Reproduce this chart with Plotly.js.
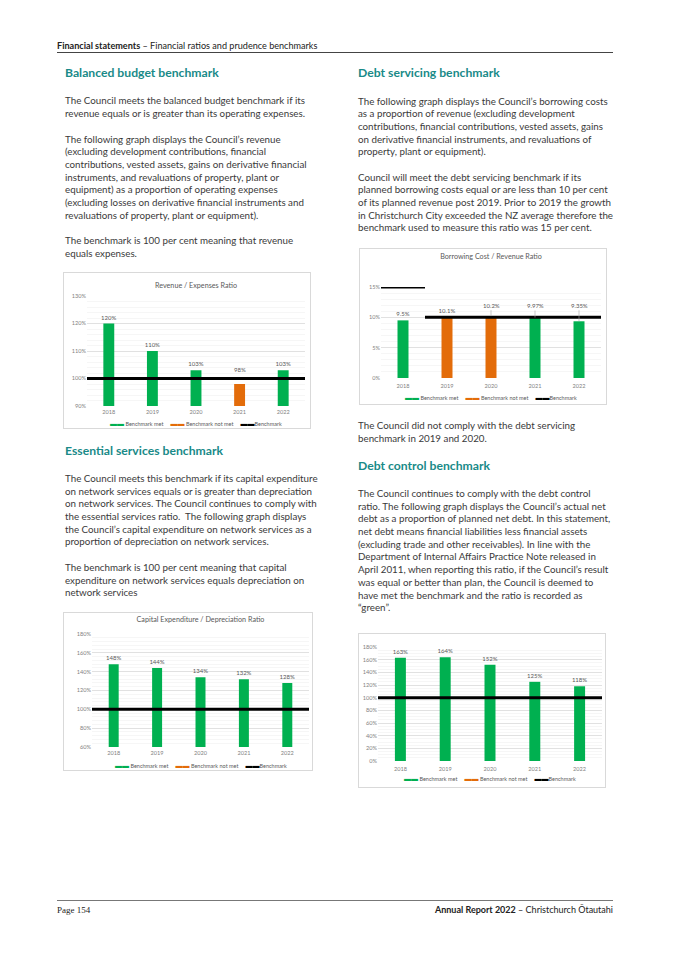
<!DOCTYPE html>
<html><head><meta charset="utf-8">
<script src="https://cdn.plot.ly/plotly-3.0.1.min.js"></script>
<style>
html,body{margin:0;padding:0;background:#fff}
body{width:675px;height:955px;position:relative;overflow:hidden;font-family:Lato,"Noto Sans",sans-serif;color:#3a3a3a}
.t{position:absolute;white-space:nowrap;font-size:10px;line-height:12.7px}
.h{position:absolute;white-space:nowrap;color:#198a88;font-weight:700;font-size:12.2px;line-height:16px}
.box{position:absolute;border:1px solid #d9d9d9;box-sizing:border-box;background:#fff}
.rule{position:absolute;height:0;border-top:1px solid #444}
</style></head><body>

<div class="t" style="left:57px;top:40px;font-size:9.1px;line-height:12px;color:#222"><b>Financial statements</b> – Financial ratios and prudence benchmarks</div>
<div class="rule" style="left:57px;top:52px;width:556px"></div>

<div class="h" style="left:65px;top:65.3px">Balanced budget benchmark</div>
<div class="t" id="ref" style="left:65px;top:94.35px"><span id="refline">The Council meets the balanced budget benchmark if its</span><br>revenue equals or is greater than its operating expenses.</div>
<div class="t" style="left:65px;top:132.65px">The following graph displays the Council’s revenue<br>(excluding development contributions, financial<br>contributions, vested assets, gains on derivative financial<br>instruments, and revaluations of property, plant or<br>equipment) as a proportion of operating expenses<br>(excluding losses on derivative financial instruments and<br>revaluations of property, plant or equipment).</div>
<div class="t" style="left:65px;top:234.15px">The benchmark is 100 per cent meaning that revenue<br>equals expenses.</div>

<div class="box" id="c1" style="left:63px;top:272px;width:248px;height:157px"></div>

<div class="h" style="left:65px;top:442.7px">Essential services benchmark</div>
<div class="t" style="left:65px;top:471.95px">The Council meets this benchmark if its capital expenditure<br>on network services equals or is greater than depreciation<br>on network services. The Council continues to comply with<br>the essential services ratio.&nbsp; The following graph displays<br>the Council’s capital expenditure on network services as a<br>proportion of depreciation on network services.</div>
<div class="t" style="left:65px;top:560.95px">The benchmark is 100 per cent meaning that capital<br>expenditure on network services equals depreciation on<br>network services</div>

<div class="box" id="c3" style="left:63px;top:612px;width:250px;height:159px"></div>

<div class="h" style="left:358px;top:65.3px">Debt servicing benchmark</div>
<div class="t" style="left:358px;top:94.65px">The following graph displays the Council’s borrowing costs<br>as a proportion of revenue (excluding development<br>contributions, financial contributions, vested assets, gains<br>on derivative financial instruments, and revaluations of<br>property, plant or equipment).</div>
<div class="t" style="left:358px;top:170.65px">Council will meet the debt servicing benchmark if its<br>planned borrowing costs equal or are less than 10 per cent<br>of its planned revenue post 2019. Prior to 2019 the growth<br>in Christchurch City exceeded the NZ average therefore the<br>benchmark used to measure this ratio was 15 per cent.</div>

<div class="box" id="c2" style="left:359px;top:248px;width:248px;height:157px"></div>

<div class="t" style="left:358px;top:419.35px">The Council did not comply with the debt servicing<br>benchmark in 2019 and 2020.</div>
<div class="h" style="left:358px;top:457.7px">Debt control benchmark</div>
<div class="t" style="left:358px;top:486.95px">The Council continues to comply with the debt control<br>ratio. The following graph displays the Council’s actual net<br>debt as a proportion of planned net debt. In this statement,<br>net debt means financial liabilities less financial assets<br>(excluding trade and other receivables). In line with the<br>Department of Internal Affairs Practice Note released in<br>April 2011, when reporting this ratio, if the Council’s result<br>was equal or better than plan, the Council is deemed to<br>have met the benchmark and the ratio is recorded as<br>“green”.</div>

<div class="box" id="c4" style="left:358px;top:633px;width:248px;height:155px"></div>

<div class="rule" style="left:57px;top:900px;width:556px;border-top-color:#777"></div>
<div class="t" style="left:57px;top:904px;font-family:'Liberation Serif',serif;font-size:9px;color:#222">Page 154</div>
<div class="t" style="right:62px;top:904px;font-size:9px;color:#222"><b>Annual Report 2022</b> – Christchurch Ōtautahi</div>

<script>
// ---------- data ----------
const years = ['2018', '2019', '2020', '2021', '2022'];

const revExpRatio     = [120, 110, 103, 98, 103];
const revExpLabels    = ['120%', '110%', '103%', '98%', '103%'];
const revExpMet       = [true, true, true, false, true];
const revExpBenchmark = [100, 100, 100, 100, 100];

const borrowRatio     = [9.5, 10.1, 10.2, 9.97, 9.35];
const borrowLabels    = ['9.5%', '10.1%', '10.2%', '9.97%', '9.35%'];
const borrowMet       = [true, false, false, true, true];
const borrowBenchmark = [15, 10, 10, 10, 10];

const capexRatio      = [148, 144, 134, 132, 128];
const capexLabels     = ['148%', '144%', '134%', '132%', '128%'];
const capexMet        = [true, true, true, true, true];
const capexBenchmark  = [100, 100, 100, 100, 100];

const debtRatio       = [163, 164, 152, 125, 118];
const debtLabels      = ['163%', '164%', '152%', '125%', '118%'];
const debtMet         = [true, true, true, true, true];
const debtBenchmark   = [100, 100, 100, 100, 100];

// ---------- fit body text widths ----------
(function(){
  const ref = document.getElementById('refline');
  const w = ref.getBoundingClientRect().width;
  const fs = 10 * 240 / w;
  document.querySelectorAll('.t').forEach(el=>{ if(!el.style.fontSize) el.style.fontSize = fs.toFixed(2)+'px'; });
})();

const GREEN = '#00b050', ORANGE = '#e36c0a';
const AXC = '#7f7f7f', LBL = '#595959';
const FONT = 'Lato, "Noto Sans", sans-serif';

function benchLine(bench){
  const xs = [], ys = [];
  for (let i = 0; i < bench.length; i++){
    const start = (i === 0 || bench[i] !== bench[i-1]);
    if (start && i > 0){ xs.push(null); ys.push(null); }
    if (start){ xs.push(i - 0.5); ys.push(bench[i]); }
    const end = (i === bench.length - 1 || bench[i+1] !== bench[i]);
    if (end){ xs.push(i + 0.5); ys.push(bench[i]); }
  }
  return {xs, ys};
}

function chart(id, o){
  const idx = years.map((_, i) => i);
  const lift = o.lift || {};
  const met = o.values.map((v, i) => o.met[i] ? v : null);
  const notMet = o.values.map((v, i) => o.met[i] ? null : v);
  const metTxt = o.labels.map((t, i) => (o.met[i] && !lift[i]) ? t : '');
  const notTxt = o.labels.map((t, i) => (!o.met[i] && !lift[i]) ? t : '');
  const bl = benchLine(o.bench);
  const W = o.w, H = o.h, m = o.margin;
  const plotH = H - m.t - m.b;
  const tf = {size:6, color: LBL, family: FONT};
  const traces = [
    {type:'bar', name:'Benchmark met', x: idx, y: met, width: o.bw, marker:{color: GREEN},
     text: metTxt, textposition:'outside', constraintext:'none', cliponaxis:false, textfont: tf, hoverinfo:'skip'},
    {type:'bar', name:'Benchmark not met', x: idx, y: notMet, width: o.bw, marker:{color: ORANGE},
     text: notTxt, textposition:'outside', constraintext:'none', cliponaxis:false, textfont: tf, hoverinfo:'skip'},
    {type:'scatter', mode:'lines', name:'Benchmark', x: bl.xs, y: bl.ys, line:{color:'#000', width:3},
     connectgaps:false, hoverinfo:'skip'}
  ];
  const annotations = [];
  // lifted data labels (with optional leader line) anchored on the bar value
  Object.keys(lift).forEach(k => {
    const i = +k, L = lift[k];
    annotations.push({x: i, y: o.values[i], xref:'x', yref:'y', text: o.labels[i], font: tf,
      showarrow: true, arrowhead: 0, arrowwidth: 0.6, arrowcolor: L.arrow ? '#a6a6a6' : 'rgba(0,0,0,0)',
      ax: 0, ay: -L.dy, standoff: 0});
  });
  annotations.push({
    xref:'paper', yref:'paper', x: 0.5 + (o.legDx || 0) / (W - m.l - m.r), y: -(o.legY) / plotH,
    xanchor:'center', yanchor:'middle', showarrow:false,
    font:{size:5.5, color: LBL, family: FONT},
    text:'<span style="color:'+GREEN+';font-size:7px">▬▬</span> Benchmark met\u00a0\u00a0\u00a0\u00a0\u00a0' +
         '<span style="color:'+ORANGE+';font-size:7px">▬▬</span> Benchmark not met\u00a0\u00a0\u00a0\u00a0\u00a0' +
         '<span style="color:#000;font-size:7px">▬▬</span>Benchmark'
  });
  const layout = {
    width: W, height: H, margin: m, showlegend:false, barmode:'overlay',
    paper_bgcolor:'rgba(0,0,0,0)', plot_bgcolor:'rgba(0,0,0,0)',
    font:{family: FONT, color: AXC, size: 6},
    title: o.title ? {text: o.title, font:{size:7.2, color: LBL, family: FONT}, x: 0.5, xref:'paper',
                      y: 1 - o.titleY / H, yref:'container', yanchor:'middle'} : {text:''},
    xaxis:{range:[-0.5, years.length - 0.5], tickmode:'array', tickvals: idx, ticktext: years,
           showgrid:false, zeroline:false, showline:false, ticks:'', ticklabelstandoff: o.xStand,
           tickfont:{size:5.6, color: AXC}, fixedrange:true},
    yaxis:{range: o.range, dtick: o.dtick, ticksuffix:'%', showgrid:true, gridcolor:'#d9d9d9', gridwidth:0.8,
           minor:{dtick: o.minor, showgrid:true, gridcolor:'#f0f0f0', gridwidth:0.6},
           zeroline:false, showline:false, ticks:'', tickfont:{size:5.6, color: AXC}, fixedrange:true},
    annotations
  };
  Plotly.newPlot(id, traces, layout, {staticPlot:true, displayModeBar:false});
}

chart('c1', {values: revExpRatio, labels: revExpLabels, met: revExpMet, bench: revExpBenchmark,
  title:'Revenue / Expenses Ratio', w:246, h:155, margin:{l:23, r:5, t:23, b:22}, titleY:12,
  range:[90,130], dtick:10, minor:2, bw:0.25, legY:17, xStand:1, lift:{3:{dy:15, arrow:false}}});
chart('c2', {values: borrowRatio, labels: borrowLabels, met: borrowMet, bench: borrowBenchmark,
  title:'Borrowing Cost / Revenue Ratio', w:246, h:155, margin:{l:21, r:5, t:38, b:26}, titleY:7,
  range:[0,15], dtick:5, minor:1, bw:0.25, legY:19, xStand:3,
  lift:{2:{dy:11, arrow:true}, 3:{dy:12, arrow:true}, 4:{dy:16, arrow:true}}});
chart('c3', {values: capexRatio, labels: capexLabels, met: capexMet, bench: capexBenchmark,
  title:'Capital Expenditure / Depreciation Ratio', w:248, h:157, margin:{l:28, r:3, t:21, b:23}, titleY:6,
  range:[60,180], dtick:20, minor:4, bw:0.23, legY:17.5, xStand:1});
chart('c4', {values: debtRatio, labels: debtLabels, met: debtMet, bench: debtBenchmark,
  title:'', w:246, h:153, margin:{l:19, r:3, t:13, b:26}, titleY:6,
  range:[0,180], dtick:20, minor:5, bw:0.245, legY:17, xStand:3});
</script>
</body></html>
